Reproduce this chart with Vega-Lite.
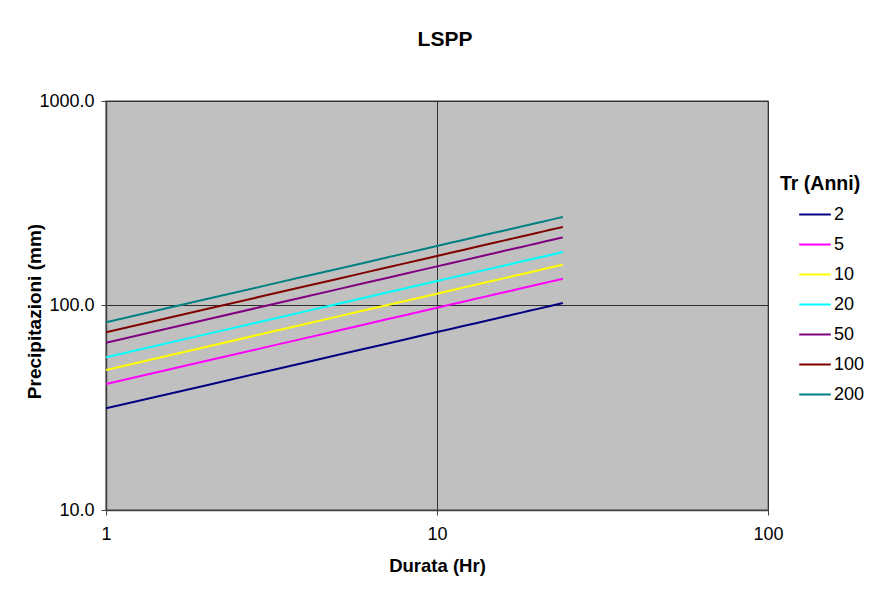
{
  "$schema": "https://vega.github.io/schema/vega-lite/v6.json",
  "autosize": {"type": "none"},
  "padding": {"left": 106, "top": 101, "right": 101, "bottom": 98},
  "width": 662,
  "height": 409,
  "background": "white",
  "title": {"text": "LSPP", "font": "Liberation Sans", "fontSize": 21, "fontWeight": "bold", "color": "black", "anchor": "middle", "offset": 42, "dx": 8},
  "config": {
    "view": {"fill": "#C0C0C0", "stroke": "#808080", "strokeWidth": 1.5},
    "font": "Liberation Sans"
  },
  "data": {"values": [
    {"t": 1, "2": 31.4, "5": 41.3, "10": 48.4, "20": 55.8, "50": 65.8, "100": 74.0, "200": 82.8},
    {"t": 2, "2": 40.66, "5": 53.48, "10": 62.68, "20": 72.26, "50": 85.21, "100": 95.83, "200": 107.23},
    {"t": 3, "2": 47.30, "5": 62.22, "10": 72.91, "20": 84.06, "50": 99.13, "100": 111.48, "200": 124.74},
    {"t": 4, "2": 52.66, "5": 69.26, "10": 81.17, "20": 93.58, "50": 110.35, "100": 124.11, "200": 138.86},
    {"t": 5, "2": 57.24, "5": 75.28, "10": 88.22, "20": 101.71, "50": 119.94, "100": 134.89, "200": 150.93},
    {"t": 6, "2": 61.26, "5": 80.58, "10": 94.43, "20": 108.87, "50": 128.38, "100": 144.37, "200": 161.54},
    {"t": 7, "2": 64.89, "5": 85.35, "10": 100.02, "20": 115.31, "50": 135.98, "100": 152.92, "200": 171.11},
    {"t": 8, "2": 68.20, "5": 89.70, "10": 105.12, "20": 121.20, "50": 142.92, "100": 160.73, "200": 179.84},
    {"t": 9, "2": 71.27, "5": 93.73, "10": 109.85, "20": 126.64, "50": 149.34, "100": 167.95, "200": 187.92},
    {"t": 10, "2": 74.12, "5": 97.49, "10": 114.25, "20": 131.72, "50": 155.32, "100": 174.68, "200": 195.45},
    {"t": 11, "2": 76.80, "5": 101.02, "10": 118.38, "20": 136.48, "50": 160.94, "100": 181.00, "200": 202.52},
    {"t": 12, "2": 79.34, "5": 104.35, "10": 122.29, "20": 140.98, "50": 166.25, "100": 186.97, "200": 209.20},
    {"t": 13, "2": 81.74, "5": 107.51, "10": 125.99, "20": 145.25, "50": 171.28, "100": 192.63, "200": 215.54},
    {"t": 14, "2": 84.03, "5": 110.53, "10": 129.53, "20": 149.33, "50": 176.09, "100": 198.04, "200": 221.59},
    {"t": 15, "2": 86.22, "5": 113.41, "10": 132.90, "20": 153.22, "50": 180.68, "100": 203.20, "200": 227.36},
    {"t": 16, "2": 88.32, "5": 116.17, "10": 136.14, "20": 156.95, "50": 185.08, "100": 208.15, "200": 232.90},
    {"t": 17, "2": 90.34, "5": 118.82, "10": 139.25, "20": 160.54, "50": 189.31, "100": 212.91, "200": 238.22},
    {"t": 18, "2": 92.29, "5": 121.39, "10": 142.26, "20": 164.01, "50": 193.40, "100": 217.50, "200": 243.37},
    {"t": 19, "2": 94.17, "5": 123.86, "10": 145.15, "20": 167.34, "50": 197.33, "100": 221.93, "200": 248.32},
    {"t": 20, "2": 95.99, "5": 126.25, "10": 147.96, "20": 170.58, "50": 201.15, "100": 226.22, "200": 253.12},
    {"t": 21, "2": 97.75, "5": 128.57, "10": 150.67, "20": 173.71, "50": 204.84, "100": 230.37, "200": 257.76},
    {"t": 22, "2": 99.46, "5": 130.82, "10": 153.31, "20": 176.75, "50": 208.42, "100": 234.40, "200": 262.27},
    {"t": 23, "2": 101.12, "5": 133.01, "10": 155.87, "20": 179.70, "50": 211.91, "100": 238.32, "200": 266.66},
    {"t": 24, "2": 102.74, "5": 135.14, "10": 158.37, "20": 182.58, "50": 215.30, "100": 242.14, "200": 270.93}
  ]},
  "transform": [{"fold": ["2", "5", "10", "20", "50", "100", "200"], "as": ["Tr", "h"]}],
  "mark": {"type": "line", "strokeWidth": 2, "clip": true},
  "encoding": {
    "x": {
      "field": "t", "type": "quantitative",
      "scale": {"type": "log", "domain": [1, 100], "nice": false},
      "axis": {
        "title": "Durata  (Hr)", "titleFontSize": 18.5, "titleFontWeight": "bold", "titleColor": "black", "titlePadding": 13,
        "values": [1, 10, 100], "format": "d",
        "labelFontSize": 18, "labelColor": "black", "labelPadding": 10,
        "grid": true, "gridColor": "#303030", "gridOpacity": 1, "gridWidth": 1,
        "domainColor": "#404040", "domainWidth": 1.5, "tickColor": "#404040", "tickSize": 5,
        "labelFlush": false
      }
    },
    "y": {
      "field": "h", "type": "quantitative",
      "scale": {"type": "log", "domain": [10, 1000], "nice": false},
      "axis": {
        "title": "Precipitazioni (mm)", "titleFontSize": 19, "titleFontWeight": "bold", "titleColor": "black",
        "titleX": -62, "titleY": 210, "titleBaseline": "bottom", "titleAngle": -90,
        "values": [10, 100, 1000], "format": ".1f",
        "labelFontSize": 18, "labelColor": "black", "labelPadding": 7,
        "grid": true, "gridColor": "#303030", "gridOpacity": 1, "gridWidth": 1,
        "domainColor": "#404040", "domainWidth": 1.5, "tickColor": "#404040", "tickSize": 5
      }
    },
    "color": {
      "field": "Tr", "type": "nominal",
      "scale": {
        "domain": ["2", "5", "10", "20", "50", "100", "200"],
        "range": ["#000080", "#FF00FF", "#FFFF00", "#00FFFF", "#800080", "#800000", "#008080"]
      },
      "legend": {
        "title": "Tr (Anni)", "orient": "none", "legendX": 674, "legendY": 74,
        "titleFontSize": 19.5, "titleFontWeight": "bold", "titleColor": "black", "titlePadding": 3,
        "labelFontSize": 18, "labelColor": "black", "labelOffset": 2,
        "symbolType": "stroke", "symbolSize": 1000, "symbolStrokeWidth": 2, "symbolOffset": 18,
        "rowPadding": 4
      }
    }
  }
}
